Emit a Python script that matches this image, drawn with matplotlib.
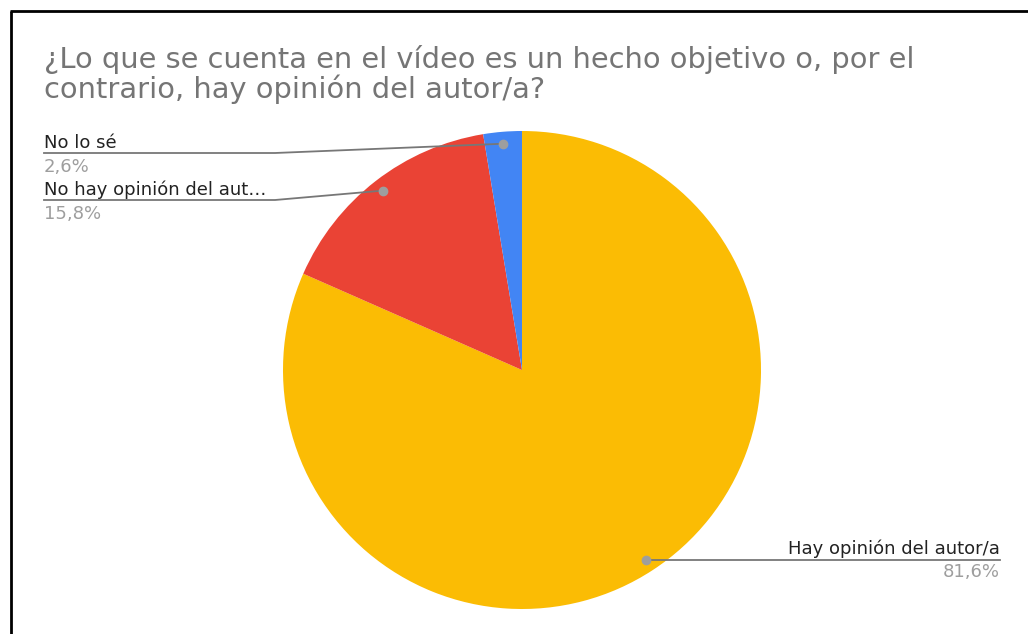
import matplotlib.pyplot as plt
import numpy as np

# survey answers, clockwise from 12 o'clock
labels = ['Hay opinión del autor/a', 'No hay opinión del aut…', 'No lo sé']
shares = [81.6, 15.8, 2.6]
colors = ['#FBBC04', '#EA4335', '#4285F4']
pct_text = ['81,6%', '15,8%', '2,6%']

title_lines = ['¿Lo que se cuenta en el vídeo es un hecho objetivo o, por el',
               'contrario, hay opinión del autor/a?']

plt.rcParams['font.family'] = ['DejaVu Sans']

W, H = 1028, 634
fig = plt.figure(figsize=(W / 100, H / 100), dpi=100)
ax = fig.add_axes([0, 0, 1, 1])

# y axis runs downward (pixel style), so counterclock=True turns clockwise on screen
cx, cy, r = 522, 370, 239
ax.pie(shares, colors=colors, startangle=-90, counterclock=True,
       center=(cx, cy), radius=r, frame=True,
       wedgeprops=dict(linewidth=0))
ax.set_xlim(0, W)
ax.set_ylim(H, 0)
ax.axis('off')

# frame lines on the left and top
ax.plot([11, 11], [H + 5, 11], color='black', lw=2, solid_capstyle='butt')
ax.plot([10, W + 5], [11, 11], color='black', lw=2, solid_capstyle='butt')

for txt, base in zip(title_lines, [68, 98]):
    ax.text(44, base, txt, fontsize=20.8, color='#757575', va='baseline')

# label dot positions along each slice's middle angle
cum = np.cumsum([0] + shares[:-1])
mid = [(c + s / 2) / 100 * 2 * np.pi for c, s in zip(cum, shares)]
dots = [(cx + 0.95 * r * np.sin(a), cy - 0.95 * r * np.cos(a)) for a in mid]

line_col = '#777777'
# big slice label on the right
dx, dy = dots[0]
ax.plot([dx, 1000], [dy, dy], color=line_col, lw=1.3)
ax.text(1000, dy - 6, labels[0], ha='right', va='baseline', fontsize=13, color='#222222')
ax.text(1000, dy + 17, pct_text[0], ha='right', va='baseline', fontsize=13, color='#9e9e9e')

# small slice labels on the left
for i, y0 in [(2, 153), (1, 200)]:
    dx, dy = dots[i]
    ax.plot([44, 275, dx], [y0, y0, dy], color=line_col, lw=1.3)
    ax.text(44, y0 - 5, labels[i], ha='left', va='baseline', fontsize=13, color='#222222')
    ax.text(44, y0 + 19, pct_text[i], ha='left', va='baseline', fontsize=13, color='#9e9e9e')

for dx, dy in dots:
    ax.plot(dx, dy, 'o', color='#9e9e9e', ms=6, zorder=5)

fig.savefig('out.png', dpi=100)
